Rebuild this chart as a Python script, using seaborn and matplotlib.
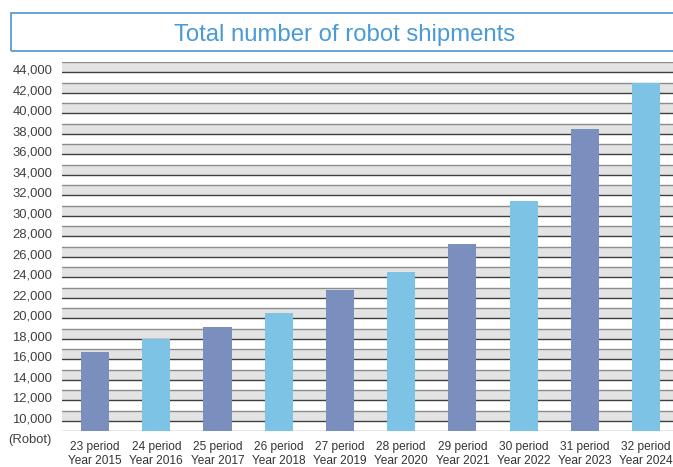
import matplotlib
matplotlib.use("Agg")
import matplotlib.pyplot as plt
import matplotlib.transforms as mtransforms
from matplotlib.patches import Rectangle
import seaborn as sns
import pandas as pd

# Data
periods = ["23 period", "24 period", "25 period", "26 period", "27 period",
           "28 period", "29 period", "30 period", "31 period", "32 period"]
years = ["Year 2015", "Year 2016", "Year 2017", "Year 2018", "Year 2019",
         "Year 2020", "Year 2021", "Year 2022", "Year 2023", "Year 2024"]
shipments = [16700, 17970, 19140, 20530, 22750, 24500, 27230, 31420, 38440, 42930]

labels = [p + "\n" + y for p, y in zip(periods, years)]
data = pd.DataFrame({"label": labels, "shipments": shipments})

dark_bar = "#7b8fbe"
light_bar = "#7dc3e6"
palette = [dark_bar if i % 2 == 0 else light_bar for i in range(len(labels))]

sns.set_style("white")
plt.rcParams["font.family"] = ["Liberation Sans", "DejaVu Sans"]

W, H = 673, 467
fig = plt.figure(figsize=(W / 100, H / 100), dpi=100)

# axes placed in pixel units (plot runs off the right edge like the original)
left_px, right_px, top_px, bottom_px = 62, 673, 62, 431
ax = fig.add_axes([left_px / W, (H - bottom_px) / H,
                   (right_px - left_px) / W, (bottom_px - top_px) / H])

# alternating grey bands and grid lines every 1,000
for v in range(10000, 45000, 2000):
    ax.axhspan(v, v + 1000, color="#e3e3e3", zorder=0, lw=0)
for v in range(9000, 45001, 1000):
    col = "#3f3f3f" if v % 2000 == 0 else "#8c8c8c"
    ax.axhline(v, color=col, lw=1.0, zorder=1)

sns.barplot(data=data, x="label", y="shipments", hue="label", palette=palette,
            width=0.46, legend=False, saturation=1, linewidth=0,
            edgecolor="none", ax=ax, zorder=2)

ax.set_ylim(9000, 45000)
ax.set_xlim(-0.54, 9.44)
ax.set_yticks(range(10000, 44001, 2000))
ax.set_yticklabels([f"{v:,}" for v in range(10000, 44001, 2000)])
ax.set_xlabel("")
ax.set_ylabel("")
ax.tick_params(axis="y", length=0, pad=7, labelsize=9.4, labelcolor="#404040")
ax.tick_params(axis="x", length=0, pad=7, labelsize=8.6, labelcolor="#333333")
for lab in ax.get_xticklabels():
    lab.set_linespacing(1.3)
shift = mtransforms.ScaledTranslation(0, 3 / 100, fig.dpi_scale_trans)
for lab in ax.get_yticklabels():
    lab.set_transform(lab.get_transform() + shift)
for s in ax.spines.values():
    s.set_visible(False)

fig.text(8 / W, (H - 440) / H, "(Robot)", fontsize=9.4, color="#404040",
         ha="left", va="center")

# title box
fig.patches.append(Rectangle((10.5 / W, (H - 50.7) / H), 1.2, 37.4 / H,
                             transform=fig.transFigure, fill=False,
                             edgecolor="#5b9bd5", lw=1.3))
fig.text(345 / W, (H - 41) / H, "Total number of robot shipments",
         fontsize=17.2, color="#4a9ad8", ha="center", va="baseline")

fig.savefig("out.png", dpi=100)
